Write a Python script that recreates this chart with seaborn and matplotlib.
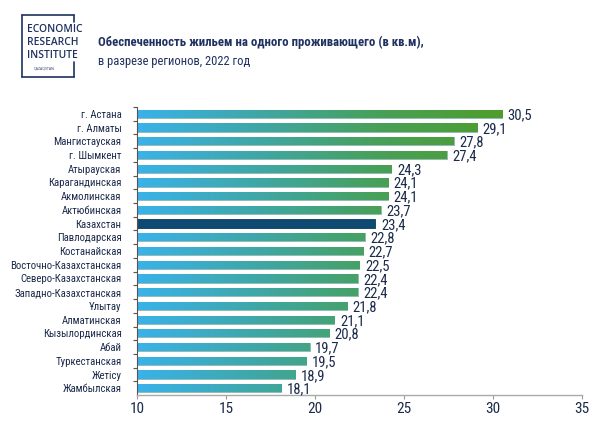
import numpy as np
import pandas as pd
import matplotlib
matplotlib.use("Agg")
import matplotlib.pyplot as plt
import seaborn as sns
from matplotlib.colors import LinearSegmentedColormap
from matplotlib import font_manager

regions = ["г. Астана", "г. Алматы", "Мангистауская", "г. Шымкент", "Атырауская",
           "Карагандинская", "Акмолинская", "Актюбинская", "Казахстан", "Павлодарская",
           "Костанайская", "Восточно-Казахстанская", "Северо-Казахстанская",
           "Западно-Казахстанская", "Ұлытау", "Алматинская", "Кызылординская",
           "Абай", "Туркестанская", "Жетісу", "Жамбылская"]
values = [30.5, 29.1, 27.8, 27.4, 24.3, 24.1, 24.1, 23.7, 23.4, 22.8, 22.7, 22.5,
          22.4, 22.4, 21.8, 21.1, 20.8, 19.7, 19.5, 18.9, 18.1]
value_labels = ["30,5", "29,1", "27,8", "27,4", "24,3", "24,1", "24,1", "23,7", "23,4",
                "22,8", "22,7", "22,5", "22,4", "22,4", "21,8", "21,1", "20,8", "19,7",
                "19,5", "18,9", "18,1"]
x_ticks = [10, 15, 20, 25, 30, 35]

names = set(f.name for f in font_manager.fontManager.ttflist)
FONT = "Roboto"
for cand in ["Roboto Condensed", "Liberation Sans Narrow", "Open Sans Condensed",
             "DejaVu Sans Condensed", "Roboto"]:
    if cand in names:
        FONT = cand
        break
LOGO_FONT = "Open Sans" if "Open Sans" in names else "DejaVu Sans"

sns.set_theme(style="white")
plt.rcParams["font.family"] = [FONT, "DejaVu Sans"]

TEXT = "#1b2a4a"
NAVY = "#0f4a72"
TITLE = "#1f3160"

df = pd.DataFrame({"region": regions, "value": values})

fig = plt.figure(figsize=(6, 4.4), dpi=100)
ax = fig.add_axes([0.228, 0.102, 0.742, 0.655])

sns.barplot(data=df, x="value", y="region", ax=ax, orient="h", width=0.6,
            color="#3ab0e6", saturation=1, edgecolor="none")
ax.set_xlim(10, 35)
ax.set_ylim(len(regions) - 0.5, -0.5)

cmap = LinearSegmentedColormap.from_list("g", ["#3ab2ea", "#3fa7a6", "#48a057", "#4f9d2c"])
grad = np.linspace(0, 1, 256).reshape(1, -1)
for i, p in enumerate(ax.patches):
    if regions[i] == "Казахстан":
        p.set_facecolor(NAVY)
        p.set_edgecolor("#0a3a5c")
        p.set_linewidth(0.6)
        continue
    p.set_facecolor("none")
    p.set_edgecolor("#3a8a7a")
    p.set_linewidth(0.4)
    y0 = p.get_y()
    h = p.get_height()
    im = ax.imshow(grad, aspect="auto", cmap=cmap,
                   extent=[10, 30.5, y0 + h, y0], zorder=1.5)
    im.set_clip_path(p)

val_texts = []
for i, (v, lab) in enumerate(zip(values, value_labels)):
    t = ax.annotate(lab, (v, i), xytext=(4, -1), textcoords="offset points",
                    va="center", ha="left", fontsize=10.5, color=TEXT)
    val_texts.append(t)

ax.set_xticks(x_ticks)
ax.set_xticklabels([str(t) for t in x_ticks], fontsize=11, color=TEXT)
ax.set_yticks(range(len(regions)))
ax.set_yticklabels(regions, fontsize=8, color=TEXT)
ax.set_yticks(np.arange(len(regions)) - 0.5, minor=True)
ax.tick_params(axis="y", which="major", length=0, pad=11)
ax.tick_params(axis="y", which="minor", length=3, width=0.8, color="#555555", left=True)
ax.tick_params(axis="x", which="major", length=3, width=0.8, color="#999999", bottom=True, pad=2)
ax.set_xlabel("")
ax.set_ylabel("")
for s in ["top", "right"]:
    ax.spines[s].set_visible(False)
ax.spines["left"].set_color("#555555")
ax.spines["left"].set_linewidth(0.8)
ax.spines["bottom"].set_color("#aaaaaa")
ax.spines["bottom"].set_linewidth(1.0)

# Title
title = fig.text(98 / 600, 1 - 42 / 440, "Обеспеченность жильем на одного проживающего (в кв.м),",
                 fontsize=12, fontweight="bold", color=TITLE, va="center", ha="left")
subtitle = fig.text(98 / 600, 1 - 61 / 440, "в разрезе регионов, 2022 год",
                    fontsize=11, color=TITLE, va="center", ha="left")

# Logo
LOGO = "#1f3160"
def fline(x0, y0, x1, y1):
    fig.add_artist(plt.Line2D([x0 / 600, x1 / 600], [1 - y0 / 440, 1 - y1 / 440],
                              transform=fig.transFigure, color=LOGO, lw=1.2))
fline(22, 15, 22, 77)
fline(22, 77, 74, 77)
fline(22, 15, 74, 15)
fline(74, 15, 74, 22)
fline(74, 62, 74, 77)
logo_texts = []
for txt, yy in [("ECONOMIC", 29), ("RESEARCH", 42.5), ("INSTITUTE", 55.5)]:
    logo_texts.append(fig.text(27 / 600, 1 - yy / 440, txt, fontsize=8, color=LOGO,
                               va="center", ha="left", fontweight="semibold",
                               family=[LOGO_FONT, "DejaVu Sans"]))
fig.text(44 / 600, 1 - 69 / 440, "QAZAQSTAN", fontsize=2.5, color=LOGO, va="center",
         ha="center", family=[LOGO_FONT, "DejaVu Sans"])

# Fit text sizes to the reference widths
fig.canvas.draw()
r = fig.canvas.get_renderer()

def fit(t, target):
    w = t.get_window_extent(r).width
    t.set_fontsize(t.get_fontsize() * target / w)

fit(title, 325)
fit(subtitle, 152)
fit(logo_texts[0], 55)
for t in logo_texts[1:]:
    t.set_fontsize(logo_texts[0].get_fontsize())

# y labels: longest label ~112 px wide
ylabs = ax.get_yticklabels()
w = max(t.get_window_extent(r).width for t in ylabs)
ax.tick_params(axis="y", which="major", labelsize=8 * 112 / w)

fig.savefig("out.png", dpi=100, facecolor="white")
